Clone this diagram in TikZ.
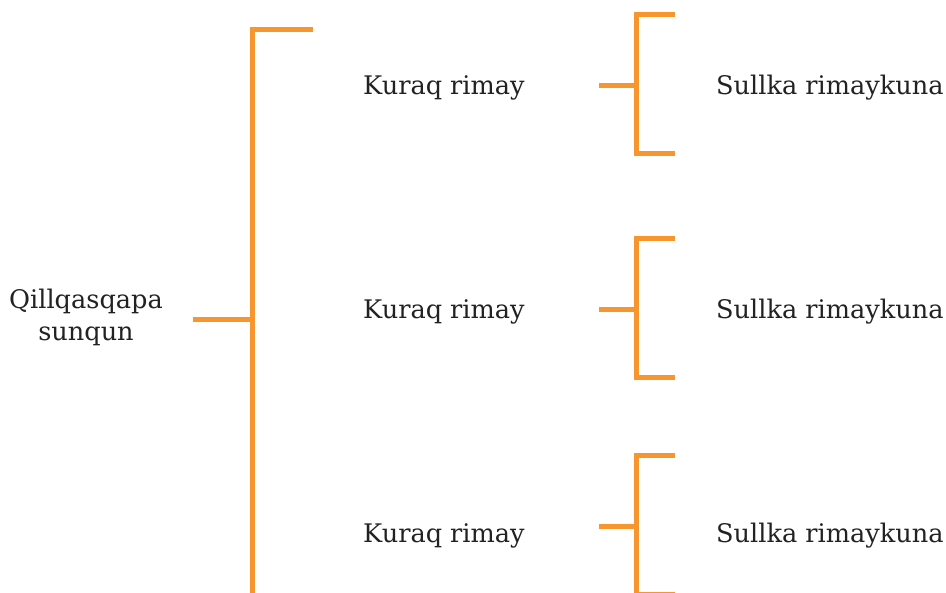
\documentclass[tikz,border=0pt]{standalone}
\usepackage{fontspec}
\setmainfont{DejaVu Serif}
\definecolor{brk}{HTML}{F7952F}
\definecolor{txt}{HTML}{222222}
\begin{document}
\begin{tikzpicture}[x=1pt,y=-1pt,
  lbl/.style={text=txt,font=\fontsize{25.6}{32}\selectfont,inner sep=0pt,align=center},
  brace/.style={draw=brk,line width=5pt}]
\useasboundingbox (0,0) rectangle (946,593);
\node[lbl] (root) at (86,317) {Qillqasqapa\\sunqun};
\coordinate (rs) at (193,320);
\coordinate (rv) at (252,320);
\draw[brace] (rs) -- (rv);
\draw[brace] (313,30) -- (252,30) -- (252,595.5) -- (313,595.5);
\foreach \i/\y/\t in {1/86/88,2/310/312,3/527/536}{
  \node[lbl,anchor=west] (mid\i) at (363,\t) {Kuraq rimay};
  \node[lbl,anchor=west] (leaf\i) at (716,\t) {Sullka rimaykuna};
  \coordinate (s\i) at (599,\y);
  \coordinate (v\i) at (636,\y);
  \draw[brace] (s\i) -- (v\i);
  \draw[brace] (675,\y-71) -- (636,\y-71) -- (636,\y+68) -- (675,\y+68);
}
\end{tikzpicture}
\end{document}
